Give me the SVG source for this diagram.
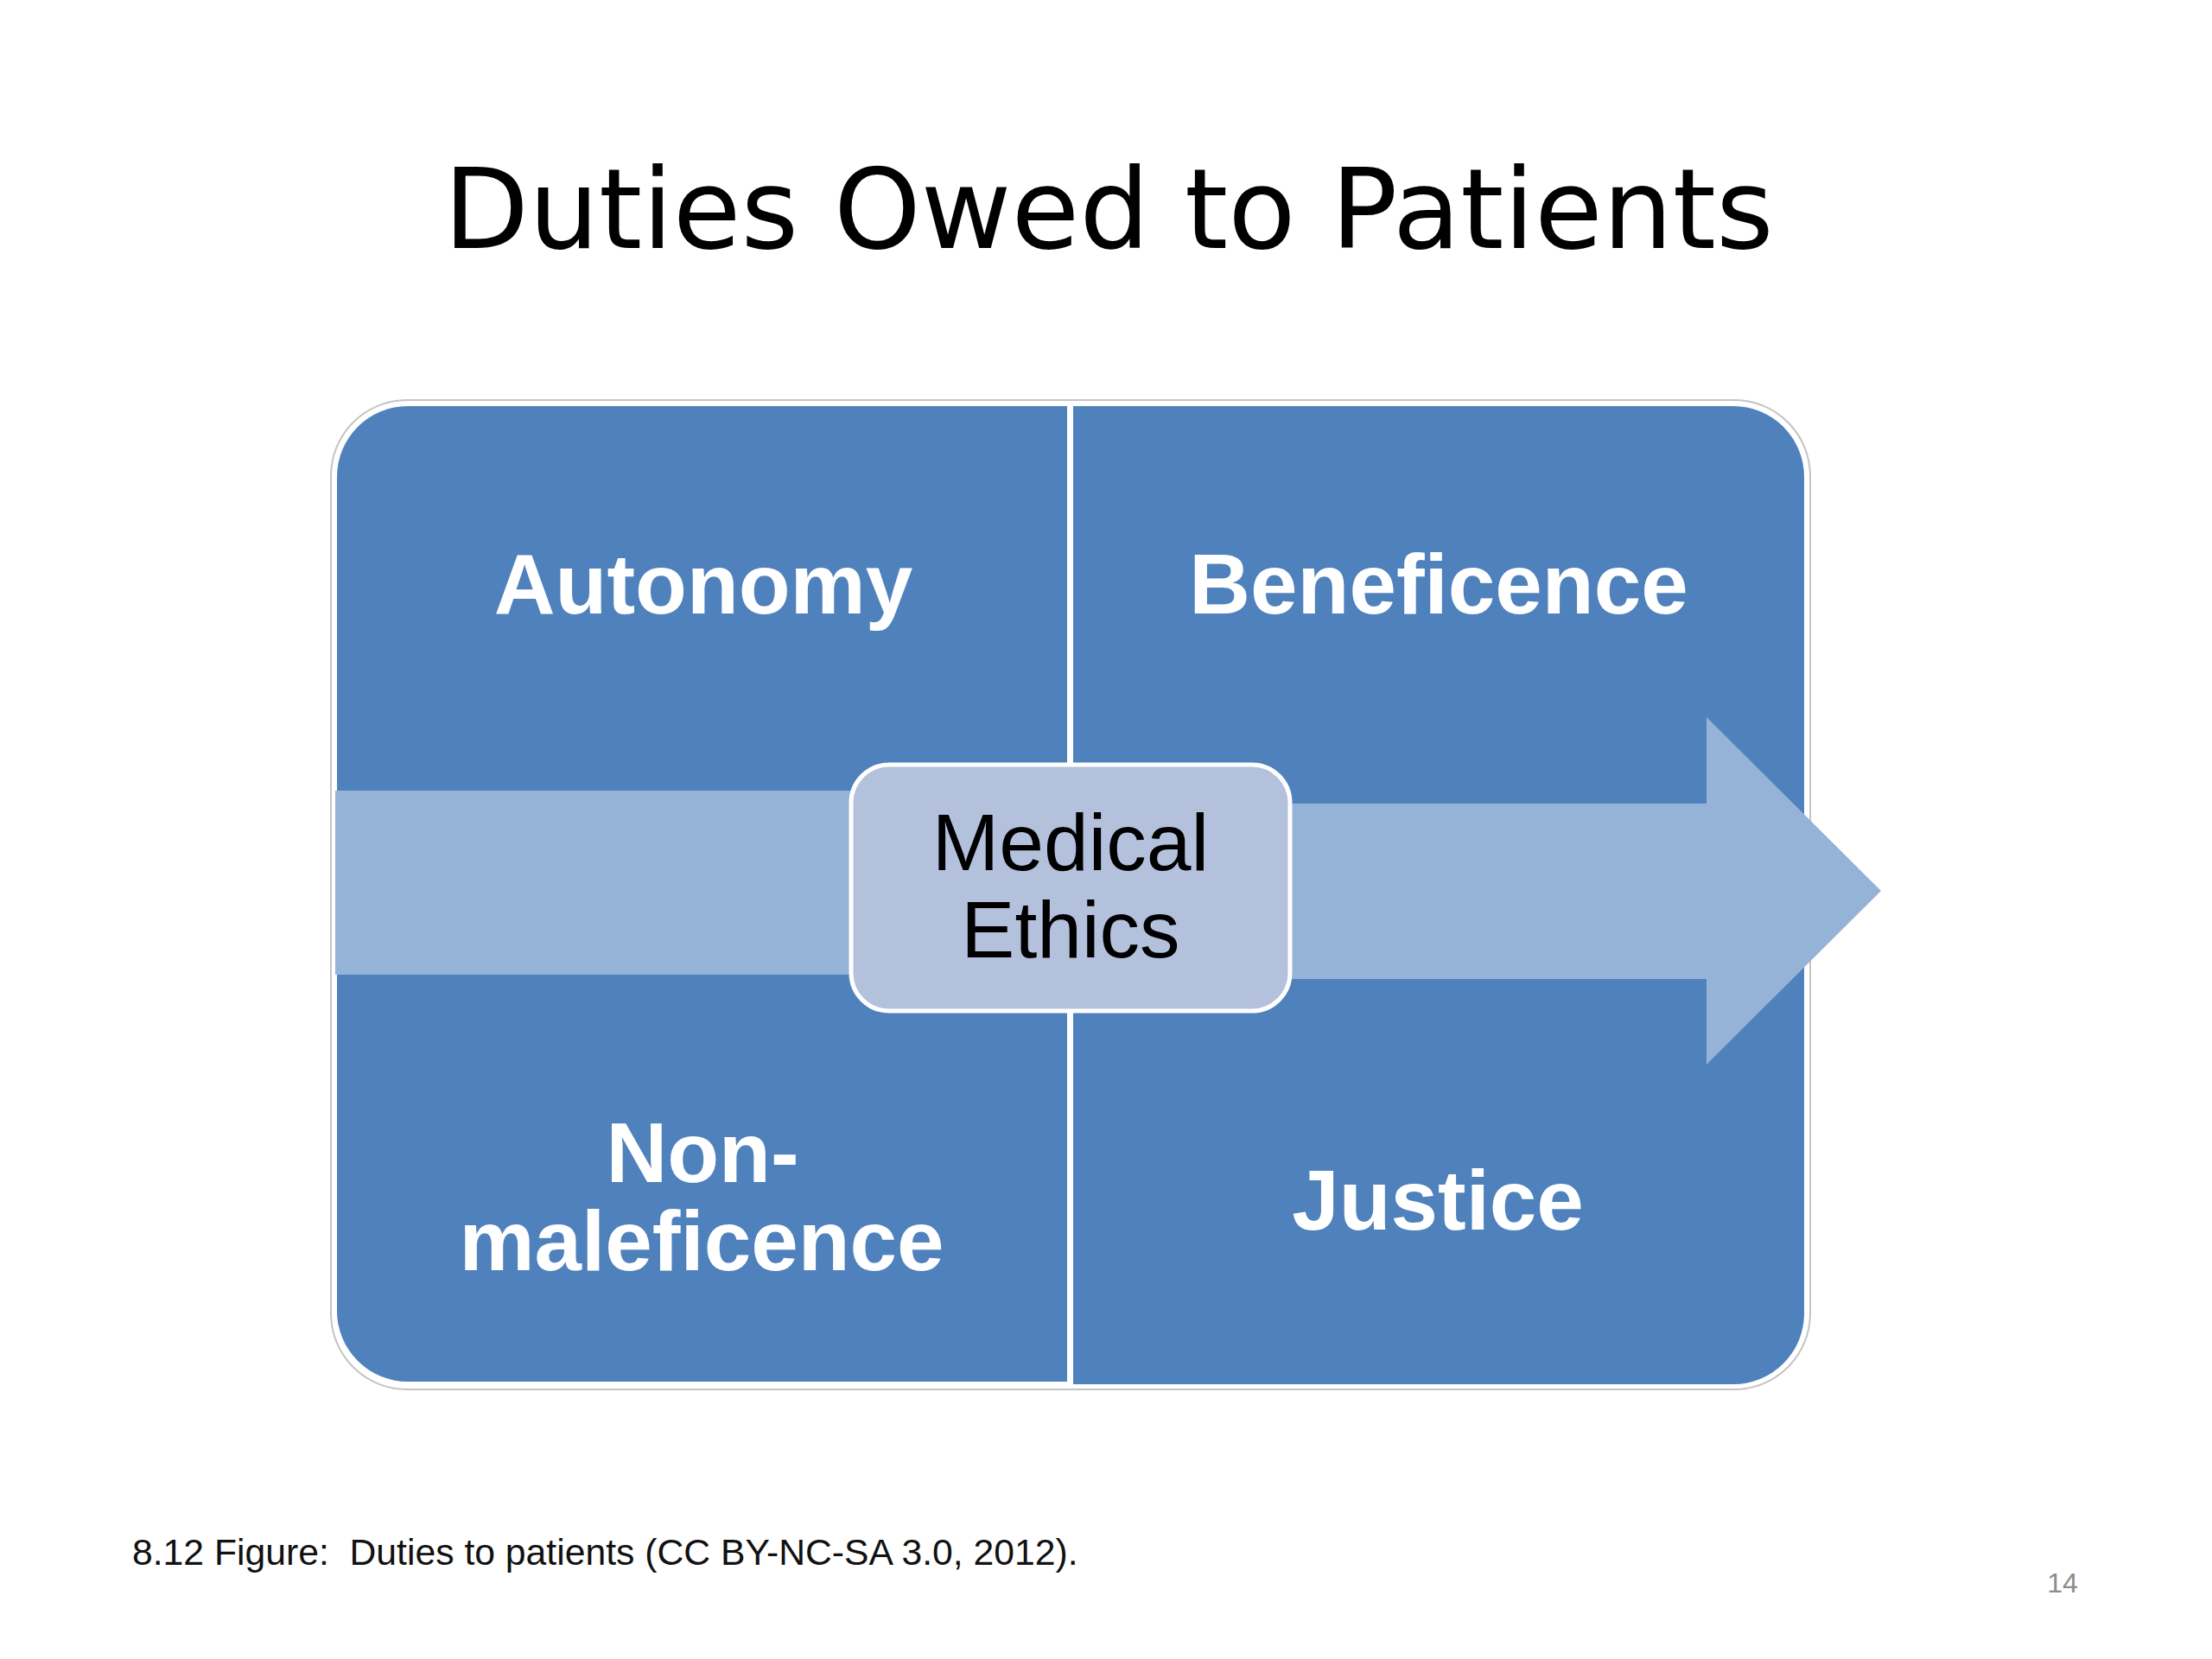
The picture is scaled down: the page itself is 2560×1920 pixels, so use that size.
<svg xmlns="http://www.w3.org/2000/svg" width="2560" height="1920" viewBox="0 0 2560 1920">
  <style>
    .quad { fill: #4F81BD; }
    .qlabel { font-family: "Liberation Sans", Arial, sans-serif; font-weight: bold; font-size: 98px; fill: #FFFFFF; text-anchor: middle; }
    .clabel { font-family: "Liberation Sans", Arial, sans-serif; font-size: 93px; fill: #000000; text-anchor: middle; }
    .title { font-family: "DejaVu Sans", Verdana, sans-serif; font-size: 128px; fill: #000000; text-anchor: middle; }
    .caption { font-family: "Liberation Sans", Arial, sans-serif; font-size: 42.7px; fill: #111111; white-space: pre; }
    .pagenum { font-family: "Liberation Sans", Arial, sans-serif; font-size: 32px; fill: #8C8C8C; text-anchor: middle; }
  </style>
  <rect x="0" y="0" width="2560" height="1920" fill="#FFFFFF"/>

  <text class="title" x="1283" y="287">Duties Owed to Patients</text>

  <!-- outer frame -->
  <rect x="383" y="463" width="1712" height="1145" rx="88" ry="88" fill="#FFFFFF" stroke="#C4C4C4" stroke-width="2"/>

  <g id="autonomy">
    <path class="quad" d="M390,1031 V552 A82,82 0 0 1 472,470 H1235 V1031 Z"/>
    <text class="qlabel" x="814" y="710">Autonomy</text>
  </g>
  <g id="beneficence">
    <path class="quad" d="M1242,470 H2006 A82,82 0 0 1 2088,552 V1031 H1242 Z"/>
    <text class="qlabel" x="1665" y="710">Beneficence</text>
  </g>
  <g id="nonmaleficence">
    <path class="quad" d="M390,1031 H1235 V1599 H472 A82,82 0 0 1 390,1517 Z"/>
    <text class="qlabel" x="813" y="1368">Non-</text>
    <text class="qlabel" x="812" y="1470">maleficence</text>
  </g>
  <g id="justice">
    <path class="quad" d="M1242,1031 H2088 V1520 A82,82 0 0 1 2006,1602 H1242 Z"/>
    <text class="qlabel" x="1664" y="1423">Justice</text>
  </g>

  <g id="connectors">
    <polygon id="arrow" fill="#95B3D7" points="388,915 1240,915 1240,930 1975,930 1975,830 2177,1031 1975,1232 1975,1133 1240,1133 1240,1128 388,1128"/>
  </g>

  <g id="medical-ethics">
    <rect x="985" y="885" width="508" height="285" rx="44" ry="44" fill="#B3C1DD" stroke="#FFFFFF" stroke-width="5"/>
    <text class="clabel" x="1239" y="1007">Medical</text>
    <text class="clabel" x="1239" y="1108">Ethics</text>
  </g>

  <text class="caption" x="153" y="1811" xml:space="preserve">8.12 Figure:  Duties to patients (CC BY-NC-SA 3.0, 2012).</text>
  <text class="pagenum" x="2387" y="1843">14</text>
</svg>
